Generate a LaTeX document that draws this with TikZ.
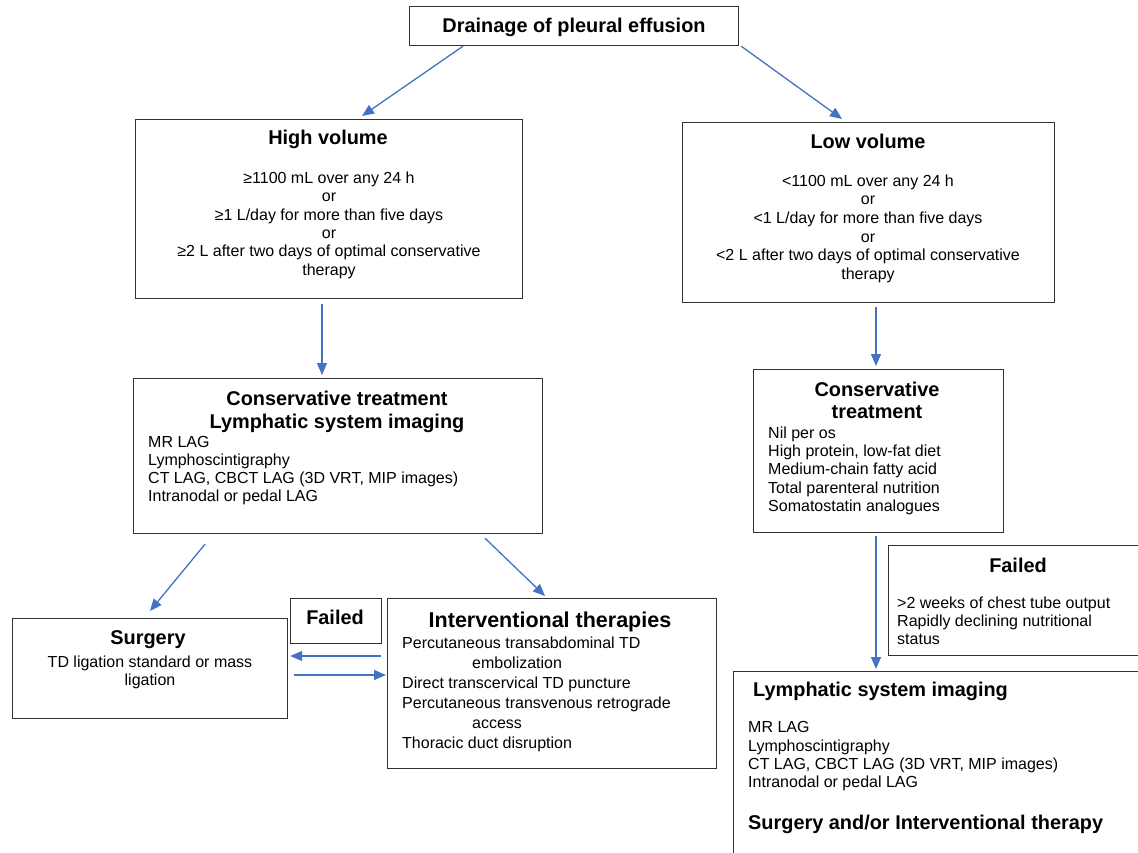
\documentclass[tikz,border=0pt]{standalone}
\usepackage{fontspec}
\setmainfont{Liberation Sans}
\usetikzlibrary{arrows.meta,calc}
\definecolor{arrblue}{RGB}{68,114,196}
\tikzset{
  box/.style={draw=black!80, line width=1.2pt, inner sep=0pt, anchor=north west},
  arr/.style={draw=arrblue, line width=1.3pt, -{Triangle[length=12pt,width=10pt]}},
  ttl/.style={font=\bfseries\fontsize{19.9}{23}\selectfont, inner sep=0pt, anchor=base},
  bigttl/.style={font=\bfseries\fontsize{21.5}{25}\selectfont, inner sep=0pt, anchor=base},
  body/.style={font=\fontsize{16}{18.4}\selectfont, inner sep=0pt},
}
\begin{document}
\begin{tikzpicture}[x=1pt,y=-1pt]
\path[use as bounding box] (0,0) rectangle (1138,853);
\clip (0,0) rectangle (1138,853);
% boxes
\node[box, minimum width=329pt, minimum height=39pt] (top) at (409,6) {};
\node[box, minimum width=387pt, minimum height=179pt] (high) at (135,119) {};
\node[box, minimum width=372pt, minimum height=180pt] (low) at (682,122) {};
\node[box, minimum width=409pt, minimum height=155pt] (consL) at (133,378) {};
\node[box, minimum width=250pt, minimum height=163pt] (consR) at (753,369) {};
\node[box, minimum width=275pt, minimum height=100pt] (surg) at (12,618) {};
\node[box, minimum width=91pt, minimum height=45pt] (failL) at (290,598) {};
\node[box, minimum width=329pt, minimum height=170pt] (interv) at (387,598) {};
\node[box, minimum width=262pt, minimum height=110pt] (failR) at (888,545) {};
\node[box, minimum width=417pt, minimum height=199pt] (lymph) at (733,671) {};
% titles
\node[ttl] (tTop) at (574,32.5) {Drainage of pleural effusion};
\node[ttl] (tHigh) at (328,145) {High volume};
\node[ttl] (tLow) at (868,149) {Low volume};
\node[ttl] (tConsL1) at (337,405.5) {Conservative treatment};
\node[ttl] (tConsL2) at (337,428.5) {Lymphatic system imaging};
\node[ttl] (tConsR1) at (877,396.5) {Conservative};
\node[ttl] (tConsR2) at (877,418.5) {treatment};
\node[ttl] (tSurg) at (148,644.5) {Surgery};
\node[ttl] (tFailL) at (335,624.5) {Failed};
\node[bigttl] (tInterv) at (550,627) {Interventional therapies};
\node[ttl] (tFailR) at (1018,572.5) {Failed};
\node[ttl, anchor=base west] (tLymph) at (753,696.5) {Lymphatic system imaging};
\node[ttl, anchor=base west] (tSurgInt) at (748,829.5) {Surgery and/or Interventional therapy};
% bodies
\node[body, align=center, anchor=north] (bHigh) at (329,171.5) {≥1100 mL over any 24 h\\or\\≥1 L/day for more than five days\\or\\≥2 L after two days of optimal conservative\\therapy};
\node[body, align=center, anchor=north, font=\fontsize{16}{18.6}\selectfont] (bLow) at (868,174.5) {<1100 mL over any 24 h\\or\\<1 L/day for more than five days\\or\\<2 L after two days of optimal conservative\\therapy};
\node[body, align=left, anchor=north west, font=\fontsize{16}{18}\selectfont] (bConsL) at (148,436.5) {MR LAG\\Lymphoscintigraphy\\CT LAG, CBCT LAG (3D VRT, MIP images)\\Intranodal or pedal LAG};
\node[body, align=left, anchor=north west, font=\fontsize{16}{18.25}\selectfont] (bConsR) at (768,426.5) {Nil per os\\High protein, low-fat diet\\Medium-chain fatty acid\\Total parenteral nutrition\\Somatostatin analogues};
\node[body, align=center, anchor=north, font=\fontsize{16}{18}\selectfont] (bSurg) at (150,655.5) {TD ligation standard or mass\\ligation};
\node[body, align=left, anchor=north west, font=\fontsize{16}{20}\selectfont] (bInterv) at (402,636.5) {Percutaneous transabdominal TD\\\hspace*{70pt}embolization\\Direct transcervical TD puncture\\Percutaneous transvenous retrograde\\\hspace*{70pt}access\\Thoracic duct disruption};
\node[body, align=left, anchor=north west, font=\fontsize{16}{18.25}\selectfont] (bFailR) at (897,596.5) {>2 weeks of chest tube output\\Rapidly declining nutritional\\status};
\node[body, align=left, anchor=north west, font=\fontsize{16}{18.3}\selectfont] (bLymph) at (748,721.5) {MR LAG\\Lymphoscintigraphy\\CT LAG, CBCT LAG (3D VRT, MIP images)\\Intranodal or pedal LAG};
% connectors
\draw[arr] ($(top.south west)+(54,0)$) -- ($(high.north west)+(227,-3)$);
\draw[arr] ($(top.south east)+(2,0)$) -- ($(low.north west)+(160,-3)$);
\draw[arr] ($(high.south west)+(187,5)$) -- ($(consL.north west)+(189,-3)$);
\draw[arr] ($(low.south west)+(194,4)$) -- ($(consR.north west)+(123,-3)$);
\draw[arr] ($(consL.south west)+(72,10)$) -- ($(surg.north west)+(138,-7)$);
\draw[arr] ($(consL.south west)+(352,4)$) -- ($(interv.north west)+(158,-2)$);
\draw[arr] ($(interv.north west)+(-6,58)$) -- ($(surg.north east)+(2,38)$);
\draw[arr] ($(surg.north east)+(6,57)$) -- ($(interv.north west)+(-1,77)$);
\draw[arr] ($(consR.south west)+(123,3)$) -- ($(lymph.north west)+(143,-2)$);
\end{tikzpicture}
\end{document}
